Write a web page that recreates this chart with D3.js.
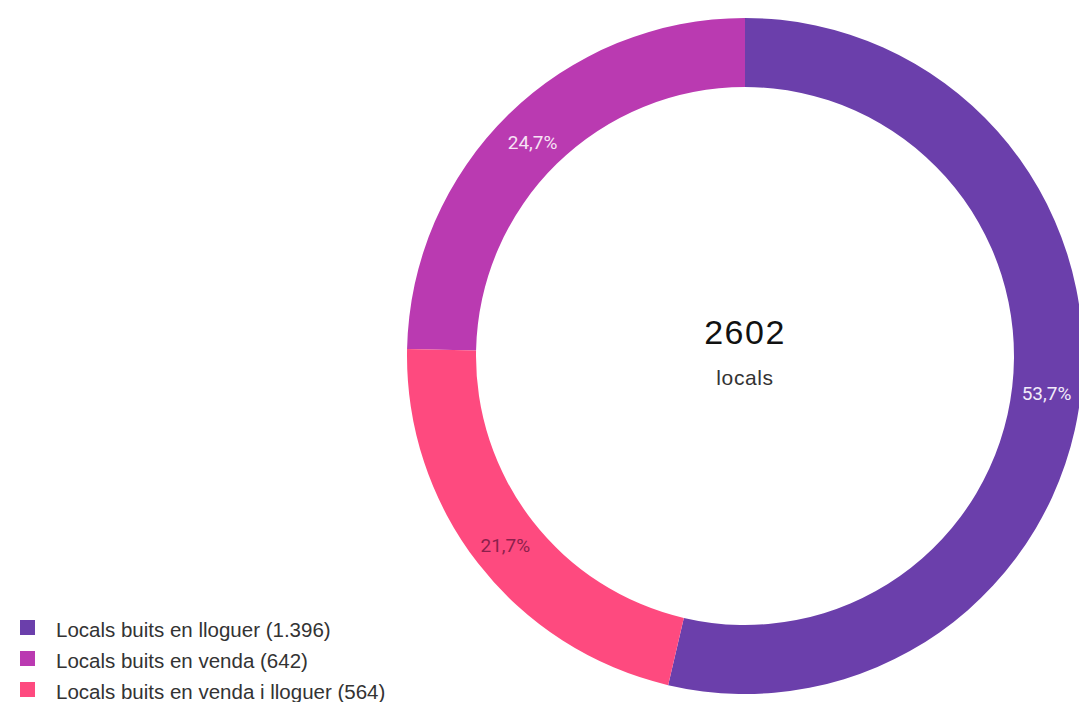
<!DOCTYPE html>
<html>
<head>
<meta charset="utf-8">
<script src="https://cdn.jsdelivr.net/npm/d3@7"></script>
<style>
  html, body { margin: 0; padding: 0; background: #fff; }
  svg { display: block; font-family: "Liberation Sans", Arial, sans-serif; }
</style>
</head>
<body>
<svg id="chart" width="1079" height="702"></svg>
<script>
const categories = ["Locals buits en lloguer", "Locals buits en venda", "Locals buits en venda i lloguer"];
const values = [1396, 642, 564];
const legendLabels = ["Locals buits en lloguer (1.396)", "Locals buits en venda (642)", "Locals buits en venda i lloguer (564)"];
const colors = ["#6b3fab", "#ba3ab1", "#fe4a7f"];
const labelColors = ["#f2ecfa", "#f7e3f5", "#8c1f4c"];
const drawOrder = [0, 2, 1]; // clockwise order from the top
const centerValue = "2602";
const centerLabel = "locals";

const svg = d3.select("#chart");
const cx = 745, cy = 356, rOuter = 338, rInner = 269;

const total = d3.sum(values);
const data = categories.map((c, i) => ({ cat: c, value: values[i], i }));

const pie = d3.pie()
  .value(d => d.value)
  .sort((a, b) => drawOrder.indexOf(a.i) - drawOrder.indexOf(b.i));

const arc = d3.arc().innerRadius(rInner).outerRadius(rOuter);
const labelArc = d3.arc().innerRadius((rInner + rOuter) / 2).outerRadius((rInner + rOuter) / 2);

const g = svg.append("g").attr("transform", `translate(${cx},${cy})`);
const arcs = pie(data);

g.selectAll("path.slice").data(arcs).enter().append("path")
  .attr("class", "slice")
  .attr("d", arc)
  .attr("fill", d => colors[d.data.i]);

const fmt = v => (Math.round(v * 1000) / 10).toFixed(1).replace(".", ",") + "%";
g.selectAll("text.pct").data(arcs).enter().append("text")
  .attr("class", "pct")
  .attr("transform", d => { const c = labelArc.centroid(d); return `translate(${c[0]},${c[1] + 3})`; })
  .attr("text-anchor", "middle")
  .attr("dominant-baseline", "central")
  .attr("font-family", "Roboto, sans-serif")
  .attr("font-size", 19)
  .attr("fill", d => labelColors[d.data.i])
  .text(d => fmt(d.data.value / total));

g.append("text")
  .attr("x", 0).attr("y", -12)
  .attr("text-anchor", "middle")
  .attr("font-size", 34)
  .attr("letter-spacing", 1.5)
  .attr("fill", "#111")
  .text(centerValue);
g.append("text")
  .attr("x", 0).attr("y", 29)
  .attr("text-anchor", "middle")
  .attr("font-size", 21)
  .attr("letter-spacing", 0.6)
  .attr("fill", "#333")
  .text(centerLabel);

const legend = svg.append("g").attr("transform", "translate(20,628)");
const rows = legend.selectAll("g").data(legendLabels).enter().append("g")
  .attr("transform", (d, i) => `translate(0,${i * 31})`);
rows.append("rect")
  .attr("x", 0).attr("y", -8).attr("width", 15).attr("height", 15)
  .attr("fill", (d, i) => colors[i]);
rows.append("text")
  .attr("x", 36).attr("y", 1)
  .attr("dominant-baseline", "central")
  .attr("font-size", 20.5)
  .attr("fill", "#333")
  .text(d => d);
</script>
</body>
</html>
